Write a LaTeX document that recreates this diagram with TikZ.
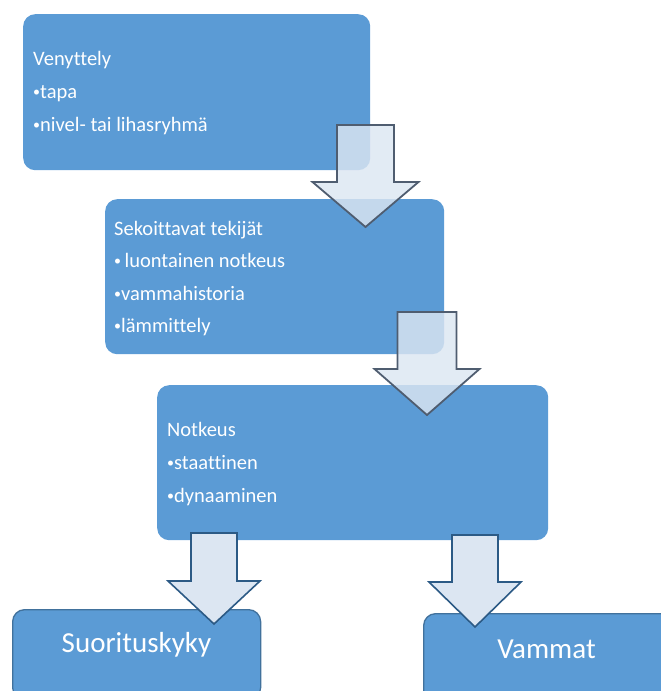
\documentclass[tikz,border=0pt]{standalone}
\usepackage{fontspec}
\setmainfont{Carlito}[Ligatures=NoCommon]
\usetikzlibrary{positioning}

\definecolor{boxblue}{HTML}{5B9BD5}
\definecolor{boxedge}{HTML}{41719C}
\definecolor{arrowfill}{HTML}{DCE6F2}
\definecolor{arrowgray}{HTML}{4F5D70}
\definecolor{arrowblue}{HTML}{2C5A85}

\tikzset{x=1pt, y=-1pt}
\tikzset{
  box/.style={fill=boxblue, rounded corners=12pt, anchor=north west, inner sep=0pt},
  endbox/.style={box, draw=boxedge, line width=1.3pt},
  line/.style={text=white, anchor=base west, inner sep=0pt, font=\fontsize{20.5}{24}\selectfont},
  bigline/.style={text=white, inner sep=0pt, font=\fontsize{29}{34}\selectfont},
  softarrow/.style={fill=arrowfill, fill opacity=0.82, draw=arrowgray, line width=1.8pt, line join=miter},
  hardarrow/.style={fill=arrowfill, draw=arrowblue, line width=1.6pt, line join=miter},
}
% small list bullet
\newcommand{\dotmark}{{\fontsize{14}{14}\selectfont\raisebox{1.5pt}{•}}}
% block arrow pointing down: style, centre x, top y, half shaft, head y, half head, tip y
\newcommand{\blockarrow}[7]{%
  \draw[#1] (#2-#4,#3) -- (#2+#4,#3) -- (#2+#4,#5) -- (#2+#6,#5) -- (#2,#7)
    -- (#2-#6,#5) -- (#2-#4,#5) -- cycle;}

\begin{document}
\begin{tikzpicture}
\useasboundingbox (0,0) rectangle (661,691);

% first box
\node[box, minimum width=347pt, minimum height=156pt] (venyttely) at (23,14) {};
\foreach \txt/\yy in {Venyttely/65, \dotmark tapa/98, \dotmark nivel- tai lihasryhmä/131}
  \node[line] (v\yy) at (33,\yy) {\txt};

% second box
\node[box, minimum width=339pt, minimum height=155pt] (tekijat) at (105,199) {};
\foreach \txt/\yy in {Sekoittavat tekijät/235, \dotmark\,luontainen notkeus/267, \dotmark vammahistoria/300, \dotmark lämmittely/332}
  \node[line] (t\yy) at (114,\yy) {\txt};

\blockarrow{softarrow}{365.5}{125}{28.5}{182}{53}{227}

% third box
\node[box, minimum width=391pt, minimum height=155pt] (notkeus) at (157,385) {};
\foreach \txt/\yy in {Notkeus/436, \dotmark staattinen/469, \dotmark dynaaminen/502}
  \node[line] (n\yy) at (167,\yy) {\txt};

\blockarrow{softarrow}{427}{312}{29.5}{369}{52.5}{415}

% bottom boxes
\node[endbox, minimum width=248pt, minimum height=90pt] (suoritus) at (12,609) {};
\node[bigline] (suoritusText) at (136.5,645) {Suorituskyky};
\node[endbox, minimum width=260pt, minimum height=95pt] (vammat) at (423,613) {};
\node[bigline] (vammatText) at (546.5,649.5) {Vammat};

\blockarrow{hardarrow}{214}{533}{23}{581}{46}{624}
\blockarrow{hardarrow}{475}{535}{23}{582}{46}{627}
\end{tikzpicture}
\end{document}
